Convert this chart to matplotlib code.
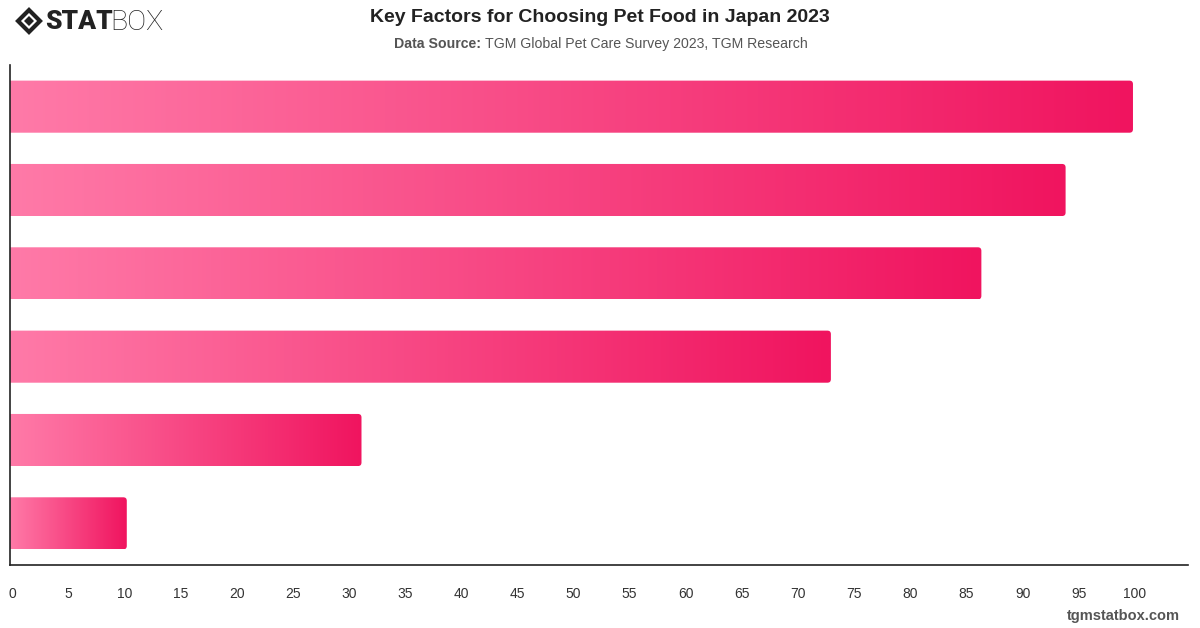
import matplotlib.pyplot as plt
import numpy as np
from matplotlib.patches import FancyBboxPatch, Polygon
from matplotlib.colors import to_rgb
from matplotlib.transforms import offset_copy

# data (bars top to bottom)
factors = ["Factor 1", "Factor 2", "Factor 3", "Factor 4", "Factor 5", "Factor 6"]
values = [100, 94.0, 86.5, 73.1, 31.3, 10.4]
x_ticks = list(range(0, 101, 5))

light = np.array(to_rgb("#ff7aa8"))
dark = np.array(to_rgb("#f0145f"))

plt.rcParams['font.family'] = ['Liberation Sans', 'DejaVu Sans']

fig = plt.figure(figsize=(12, 6.28), dpi=100)
W, H = 1200, 628
ax = fig.add_axes([10 / W, 1 - 565 / H, (1188 - 10) / W, (565 - 65) / H])

xmax = 104.9
ax.set_xlim(0, xmax)
ax.set_ylim(len(values) - 0.5, -0.5)

# gradient strip
t = np.linspace(0, 1, 256)[:, None]
grad = (light * (1 - t) + dark * t)[None, :, :]

bar_h = 0.625
px_x = (1188 - 10) / xmax
px_y = 500 / len(values)
r = 3.5 / px_x
aspect = (3.5 / px_y) / r
for i, v in enumerate(values):
    y0 = i - bar_h / 2
    patch = FancyBboxPatch((-1, y0), v + 1, bar_h,
                           boxstyle=f"round,pad=0,rounding_size={r}",
                           mutation_aspect=aspect, facecolor="none",
                           edgecolor="none")
    ax.add_patch(patch)
    im = ax.imshow(grad, extent=(0, v, y0 + bar_h, y0), aspect="auto",
                   interpolation="bilinear", zorder=2)
    im.set_clip_path(patch)

ax.set_xlim(0, xmax)
ax.set_ylim(len(values) - 0.5, -0.5)
ax.set_xticks(x_ticks)
ax.set_xticklabels([str(x) for x in x_ticks])
ax.set_yticks([])
ax.tick_params(axis="x", length=0, pad=16, labelsize=10, labelcolor="#333333")
for lab in ax.get_xticklabels():
    lab.set_transform(offset_copy(lab.get_transform(), fig=fig, x=2, y=0, units="dots"))
for s in ["top", "right"]:
    ax.spines[s].set_visible(False)
for s in ["left", "bottom"]:
    ax.spines[s].set_color("#222222")
    ax.spines[s].set_linewidth(1.2)

# title + source
fig.text(0.5, 1 - 17 / H, "Key Factors for Choosing Pet Food in Japan 2023",
         ha="center", va="center", fontsize=14, fontweight="bold", color="#222222")
fig.text(481 / W, 1 - 44 / H, "Data Source:", ha="right", va="center",
         fontsize=10.2, fontweight="bold", color="#555555")
fig.text(485 / W, 1 - 44 / H, "TGM Global Pet Care Survey 2023, TGM Research",
         ha="left", va="center", fontsize=10.2, color="#555555")

# footer
fig.text(1180 / W, 1 - 616 / H, "tgmstatbox.com", ha="right", va="center",
         fontsize=10.5, fontweight="bold", color="#555555")

# logo
def px(x, y):
    return (x / W, 1 - y / H)

cx, cy = 29, 21
outer = [px(cx - 11, cy), px(cx, cy - 11), px(cx + 11, cy), px(cx, cy + 11)]
inner = [px(cx - 5, cy), px(cx, cy - 5), px(cx + 5, cy), px(cx, cy + 5)]
fig.add_artist(Polygon(outer, closed=True, facecolor="none", edgecolor="#222222",
                       linewidth=3, joinstyle="miter", transform=fig.transFigure))
fig.add_artist(Polygon(inner, closed=True, facecolor="#222222", edgecolor="none",
                       transform=fig.transFigure))
fig.text(45 / W, 1 - 22 / H, "STAT", ha="left", va="center", fontsize=19,
         fontweight="black", color="#222222", family="Roboto")
fig.text(110 / W, 1 - 22 / H, "BOX", ha="left", va="center", fontsize=20.5,
         fontweight="light", color="#222222", family="Roboto")

fig.savefig("out.png", dpi=100)
